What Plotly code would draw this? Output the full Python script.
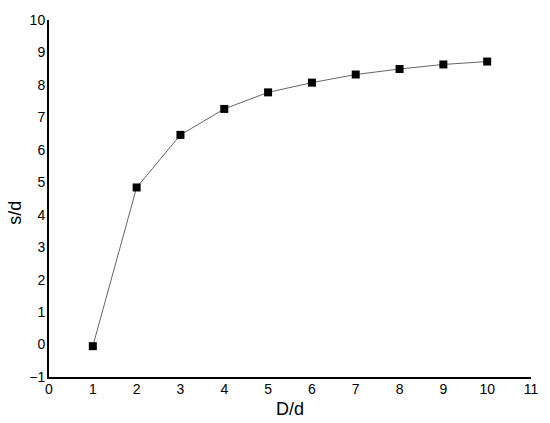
import plotly.graph_objects as go

# ===== data =====
D_over_d = [1, 2, 3, 4, 5, 6, 7, 8, 9, 10]
s_over_d = [-0.05, 4.84, 6.46, 7.26, 7.77, 8.07, 8.32, 8.49, 8.63, 8.72]

x_ticks = list(range(0, 12))
y_ticks = list(range(-1, 11))

fig = go.Figure()
fig.add_trace(go.Scatter(
    x=D_over_d,
    y=s_over_d,
    mode="lines+markers",
    line=dict(color="#666666", width=1),
    marker=dict(symbol="square", size=8, color="black"),
    showlegend=False,
))

axis_common = dict(
    showgrid=False,
    zeroline=False,
    showline=True,
    linecolor="black",
    linewidth=2,
    ticks="",
    tickfont=dict(family="Liberation Sans, Arial", size=14, color="black"),
)

fig.update_layout(
    width=550,
    height=423,
    margin=dict(l=49, r=13, t=17, b=46),
    plot_bgcolor="white",
    paper_bgcolor="white",
    xaxis=dict(range=[0, 11], tickvals=x_ticks, ticklabelstandoff=-2, **axis_common),
    yaxis=dict(range=[-1, 10], tickvals=y_ticks, ticklabelstandoff=-1, **axis_common),
    annotations=[
        dict(text="D/d", xref="paper", yref="paper", x=0.5, y=-0.09,
             xanchor="center", yanchor="middle", showarrow=False,
             font=dict(family="Liberation Sans, Arial", size=18, color="black")),
        dict(text="s/d", xref="paper", yref="paper", x=-0.07, y=0.461,
             xanchor="center", yanchor="middle", showarrow=False, textangle=-90,
             font=dict(family="Liberation Sans, Arial", size=18, color="black")),
    ],
)

# 去掉页面默认边距，让图从左上角开始
fig.write_html(
    "out.html",
    config={"displayModeBar": False},
    post_script="document.body.style.margin='0';document.body.style.overflow='hidden';",
)
